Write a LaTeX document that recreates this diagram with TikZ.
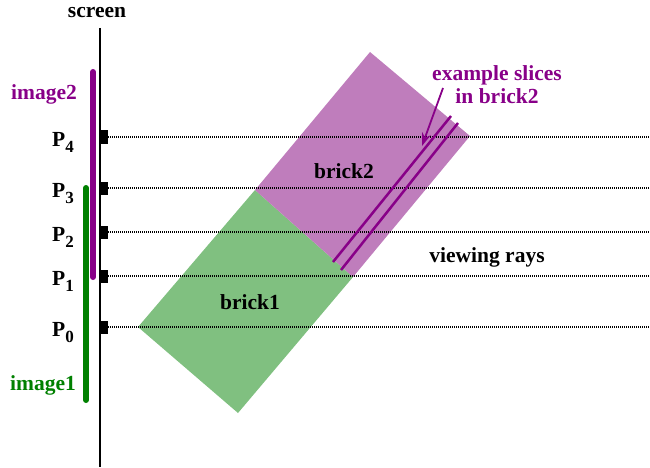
\documentclass[tikz,border=0pt]{standalone}
\usepackage{fontspec}
\setmainfont{Liberation Serif}
\usetikzlibrary{arrows.meta}
\definecolor{slicepurple}{RGB}{136,0,136}
\definecolor{brickpurple}{RGB}{191,125,188}
\definecolor{brickgreen}{RGB}{128,192,128}
\definecolor{imagegreen}{RGB}{0,128,0}
\newcommand{\psub}[1]{P\raisebox{-6pt}{\fontsize{17}{17}\selectfont #1}}
\begin{document}
\begin{tikzpicture}[x=1pt, y=-1pt,
    lbl/.style={font=\fontsize{21.5}{24}\selectfont\bfseries, inner sep=0pt},
    tickbox/.style={rectangle, fill=black, minimum width=7pt, minimum height=13pt, inner sep=0pt},
    ray/.style={line width=1.2pt, dash pattern=on 1pt off 1pt},
    slice/.style={slicepurple, line width=2.5pt},
    bar/.style={line width=6pt, line cap=round}
]
\useasboundingbox (0,0) rectangle (650,468);
% screen and images
\draw[line width=2pt] (100,28) coordinate (top) -- (100,467) coordinate (bot);
\node[lbl, anchor=base] (scr) at (97,18) {screen};
\draw[bar, slicepurple] (93,72) -- (93,277);
\draw[bar, imagegreen] (86,188) -- (86,400);
\node[lbl, anchor=base, text=slicepurple] (img2) at (44,100) {image2};
\node[lbl, anchor=base, text=imagegreen] (img1) at (43,390) {image1};
% bricks
\fill[brickgreen] (138,327) -- (255,190) -- (353,277) -- (238,413) -- cycle;
\fill[brickpurple] (255,190) -- (370,52) -- (470,136) -- (353,277) -- cycle;
\node[lbl, anchor=base] (b1) at (250,309) {brick1};
\node[lbl, anchor=base] (b2) at (344,178) {brick2};
% rays
\foreach \i/\y in {0/327, 1/276, 2/232, 3/188, 4/137} {
  \node[tickbox] (t\i) at (104.5,\y) {};
  \coordinate (e\i) at (650,\y);
  \draw[ray] (t\i.east) -- (e\i);
  \node[lbl, anchor=base west] (p\i) at (52,\y+9.5) {\psub{\i}};
}
\node[lbl, anchor=base] (vr) at (487,262) {viewing rays};
% slices
\coordinate (s1a) at (333,262);
\coordinate (s1b) at (451,116);
\coordinate (s2a) at (341,270);
\coordinate (s2b) at (458,123);
\draw[slice] (s1a) -- (s1b);
\draw[slice] (s2a) -- (s2b);
\node[lbl, text=slicepurple, align=center, anchor=base] (ex) at (497,104) {example slices\\in brick2};
\coordinate (tip) at (422,146);
\draw[slicepurple, line width=1.8pt, -{Stealth[length=13pt, width=9pt]}] (443,88) -- (tip);
\end{tikzpicture}
\end{document}
